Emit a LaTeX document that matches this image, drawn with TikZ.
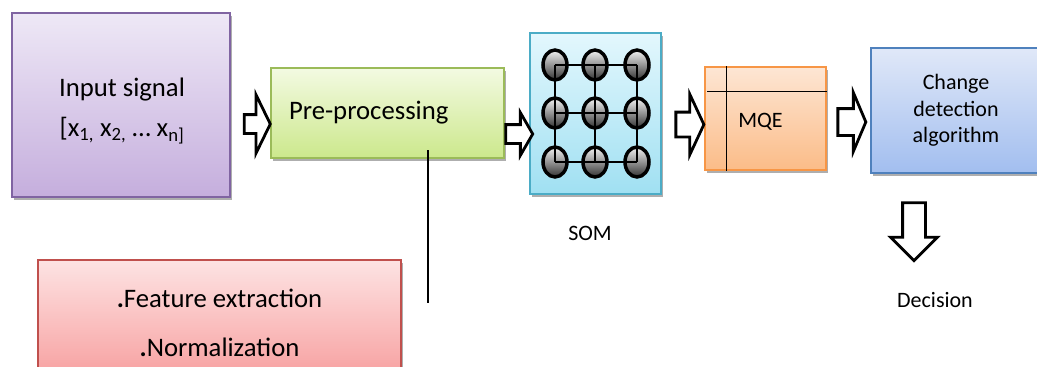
\documentclass[tikz,border=0pt]{standalone}
\usepackage{fontspec}
\setmainfont{Carlito}
\usetikzlibrary{shapes.geometric, shapes.arrows, shadows}
\definecolor{inborder}{HTML}{8064A2}
\definecolor{intop}{HTML}{EEE8F6}
\definecolor{inbot}{HTML}{C5AEDD}
\definecolor{preborder}{HTML}{9BBB59}
\definecolor{pretop}{HTML}{F3FAE2}
\definecolor{prebot}{HTML}{CCE88C}
\definecolor{somborder}{HTML}{4BACC6}
\definecolor{somtop}{HTML}{E3F7FD}
\definecolor{sombot}{HTML}{A0E0F2}
\definecolor{mqeborder}{HTML}{F79646}
\definecolor{mqetop}{HTML}{FDE6D4}
\definecolor{mqebot}{HTML}{FBBC88}
\definecolor{chgborder}{HTML}{4F81BD}
\definecolor{chgtop}{HTML}{E0E8F8}
\definecolor{chgbot}{HTML}{A2BEEF}
\definecolor{featborder}{HTML}{C0504D}
\definecolor{feattop}{HTML}{FDE3E3}
\definecolor{featbot}{HTML}{F79C9C}
\tikzset{
  block/.style={draw, line width=1.4pt, inner sep=0pt,
    drop shadow={shadow xshift=1.5pt, shadow yshift=-3pt, fill=black!45, opacity=.7}},
  blockarrow/.style={single arrow, draw=black, line width=2.8pt, fill=white,
    inner xsep=0pt},
  neuron/.style={ellipse, draw=black, line width=3.5pt, top color=gray!10,
    bottom color=black!80, minimum width=24pt, minimum height=30pt, inner sep=0pt},
  gridline/.style={line width=1.5pt},
  bigtext/.style={font=\fontsize{26.7}{40}\selectfont},
  smalltext/.style={font=\fontsize{22}{26.5}\selectfont}
}

\begin{document}
\begin{tikzpicture}[x=1pt, y=-1pt]
\useasboundingbox (0,0) rectangle (1037,367);
% boxes
\node[block, draw=inborder, top color=intop, bottom color=inbot, minimum width=218pt,
  minimum height=184pt] (input) at (121,105) {};
\node[align=center, bigtext] (inputtext) at (122,111)
  {Input signal\\{}[x\textsubscript{1,} x\textsubscript{2,} … x\textsubscript{n]}};
\node[block, draw=preborder, top color=pretop, bottom color=prebot, minimum width=233pt,
  minimum height=90pt, text width=197pt, align=left, bigtext] (pre) at (387.5,113) {Pre-processing};
\node[block, draw=somborder, top color=somtop, bottom color=sombot, minimum width=131pt,
  minimum height=161pt] (som) at (595.5,113.5) {};
\node[block, draw=mqeborder, top color=mqetop, bottom color=mqebot, minimum width=121pt,
  minimum height=103pt] (mqe) at (765.5,118.5) {};
\node[block, draw=chgborder, top color=chgtop, bottom color=chgbot, minimum width=170pt,
  minimum height=125pt, align=center, smalltext] (change) at (956,110.5) {Change\\detection\\algorithm};
\node[block, draw=featborder, top color=feattop, bottom color=featbot, minimum width=363pt,
  minimum height=125pt, align=center, font=\fontsize{26.7}{49}\selectfont] (feat) at (219.5,322.5)
  {\textbf{.}Feature extraction\\\textbf{.}Normalization};

% SOM grid
\foreach \cx/\i in {555/1,595/2,637/3}
  \foreach \cy/\j in {65/1,113/2,162/3}
    \node[neuron] (n\j\i) at (\cx,\cy) {};
\foreach \k in {1,2,3} {
  \draw[gridline] (n\k1.center) -- (n\k3.center);
  \draw[gridline] (n1\k.center) -- (n3\k.center);
}
\node[smalltext] (somlabel) at (590,233) {SOM};

% MQE table
\node[smalltext] (mqelabel) at (760.5,122) {MQE};
\draw[gridline] ([xshift=22pt]mqe.north west) -- ([xshift=22pt]mqe.south west);
\draw[gridline] ([xshift=3pt,yshift=-25pt]mqe.north west) -- ([yshift=-25pt]mqe.north east);

% pre-processing detail
\coordinate (tapstart) at (428,150);
\coordinate (tapend) at (428,303);
\draw[gridline] (tapstart) -- (tapend);

% block arrows
\node[blockarrow, minimum height=26pt, inner ysep=8pt, single arrow head extend=20pt,
  single arrow tip angle=128] (a1) at (255,124) {};
\node[blockarrow, minimum height=27pt, inner ysep=8pt, single arrow head extend=12pt,
  single arrow tip angle=120] (a2) at (516.5,134) {};
\node[blockarrow, minimum height=28pt, inner ysep=11pt, single arrow head extend=18pt,
  single arrow tip angle=130] (a3) at (687,124.5) {};
\node[blockarrow, minimum height=28pt, inner ysep=12pt, single arrow head extend=16pt,
  single arrow tip angle=134] (a4) at (849,122) {};
\node[blockarrow, shape border rotate=270, minimum height=58pt, inner sep=10pt,
  single arrow head extend=12pt, single arrow tip angle=90] (down) at (914,226) {};
\node[smalltext] (decision) at (935,300) {Decision};
\end{tikzpicture}
\end{document}
